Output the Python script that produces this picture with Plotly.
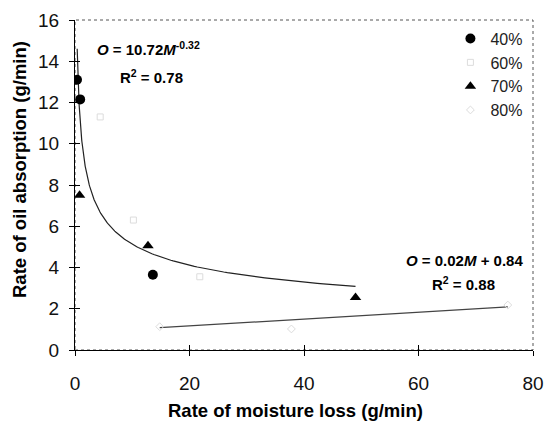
import numpy as np
import plotly.graph_objects as go

# ---- data ----
m40 = [0.35, 0.9, 13.6]
o40 = [13.1, 12.15, 3.65]
m60 = [4.4, 10.2, 21.8]
o60 = [11.3, 6.3, 3.55]
m70 = [0.8, 12.75, 49.0]
o70 = [7.5, 5.05, 2.55]
m80 = [14.8, 37.8, 75.6]
o80 = [1.13, 1.02, 2.18]

power_a, power_b = 10.72, -0.32
power_m_range = [0.38, 49.0]
lin_slope, lin_intercept = 0.0165, 0.84
lin_m_range = [14.8, 75.6]

x_ticks = [0, 20, 40, 60, 80]
y_ticks = [0, 2, 4, 6, 8, 10, 12, 14, 16]

x_title = "Rate of moisture loss (g/min)"
y_title = "Rate of oil absorption (g/min)"

FONT = "Liberation Sans, Arial, sans-serif"
W, H = 546, 422
L, R, T, B = 75, 13, 20, 72

fig = go.Figure()

# trend lines
pm = np.geomspace(power_m_range[0], power_m_range[1], 200)
fig.add_trace(go.Scatter(x=pm, y=power_a * pm ** power_b, mode="lines",
                         line=dict(color="#222", width=1.2), showlegend=False, hoverinfo="skip"))
lm = np.array(lin_m_range)
fig.add_trace(go.Scatter(x=lm, y=lin_slope * lm + lin_intercept, mode="lines",
                         line=dict(color="#444", width=1.2), showlegend=False, hoverinfo="skip"))

# series
fig.add_trace(go.Scatter(x=m40, y=o40, mode="markers", name="40%",
                         marker=dict(symbol="circle", size=10, color="black")))
fig.add_trace(go.Scatter(x=m60, y=o60, mode="markers", name="60%",
                         marker=dict(symbol="square-open", size=6, color="#dcdcdc", line=dict(width=1))))
fig.add_trace(go.Scatter(x=m70, y=o70, mode="markers", name="70%",
                         marker=dict(symbol="triangle-up", size=10, color="black")))
fig.add_trace(go.Scatter(x=m80, y=o80, mode="markers", name="80%",
                         marker=dict(symbol="diamond-open", size=6, color="#dcdcdc", line=dict(width=1))))

# invisible trace for the inner half of the crossing ticks
fig.add_trace(go.Scatter(x=[None], y=[None], xaxis="x2", yaxis="y2", showlegend=False))

tick_common = dict(showgrid=False, zeroline=False, tickcolor="black", ticklen=5, tickwidth=1)

pw, ph = W - L - R, H - T - B


def px_x(px):
    return (px - L) / pw


def px_y(py):
    return (H - B - py) / ph


fig.update_layout(
    width=W, height=H,
    margin=dict(l=L, r=R, t=T, b=B),
    paper_bgcolor="white", plot_bgcolor="white",
    font=dict(family=FONT, color="black"),
    xaxis=dict(range=[0, 80], tickvals=x_ticks, ticks="outside", showline=True,
               linecolor="black", linewidth=1, automargin=False,
               tickfont=dict(size=19, color="#111"), ticklabelstandoff=11,
               **tick_common),
    yaxis=dict(range=[0, 16], tickvals=y_ticks, ticks="outside", showline=True,
               linecolor="black", linewidth=1, automargin=False,
               tickfont=dict(size=19, color="#111"), ticklabelstandoff=6,
               **tick_common),
    xaxis2=dict(range=[0, 80], tickvals=x_ticks, ticks="inside", showticklabels=False,
                overlaying="x", side="bottom", showline=False, anchor="y2", **tick_common),
    yaxis2=dict(range=[0, 16], tickvals=y_ticks, ticks="inside", showticklabels=False,
                overlaying="y", side="left", showline=False, anchor="x2", **tick_common),
    legend=dict(x=0.99, y=0.995, xanchor="right", yanchor="top", bgcolor="rgba(0,0,0,0)",
                font=dict(size=16, color="#222"), tracegroupgap=0, itemwidth=30),
    shapes=[dict(type="rect", xref="paper", yref="paper", x0=0, x1=1, y0=0, y1=1,
                 line=dict(color="#555", width=1, dash="dot"), layer="below")],
    annotations=[
        dict(x=px_x(295), y=px_y(410), xref="paper", yref="paper", xanchor="center", yanchor="middle",
             showarrow=False, text=f"<b>{x_title}</b>", font=dict(size=18.5)),
        dict(x=px_x(19), y=px_y(170), xref="paper", yref="paper", xanchor="center", yanchor="middle",
             showarrow=False, textangle=-90, text=f"<b>{y_title}</b>", font=dict(size=18.5)),
        dict(x=px_x(95), y=px_y(48), xref="paper", yref="paper", xanchor="left", yanchor="middle", showarrow=False,
             text="<b><i>O</i> = 10.72<i>M</i><sup>-0.32</sup></b>", font=dict(size=15)),
        dict(x=px_x(118), y=px_y(76), xref="paper", yref="paper", xanchor="left", yanchor="middle", showarrow=False,
             text="<b>R<sup>2</sup> = 0.78</b>", font=dict(size=15)),
        dict(x=px_x(525), y=px_y(260), xref="paper", yref="paper", xanchor="right", yanchor="middle", showarrow=False,
             text="<b><i>O</i> = 0.02<i>M</i> + 0.84</b>", font=dict(size=15)),
        dict(x=px_x(430), y=px_y(283), xref="paper", yref="paper", xanchor="left", yanchor="middle", showarrow=False,
             text="<b>R<sup>2</sup> = 0.88</b>", font=dict(size=15)),
    ],
)

fig.write_html("out.html", config={"displayModeBar": False},
               post_script="document.body.style.margin='0';")
